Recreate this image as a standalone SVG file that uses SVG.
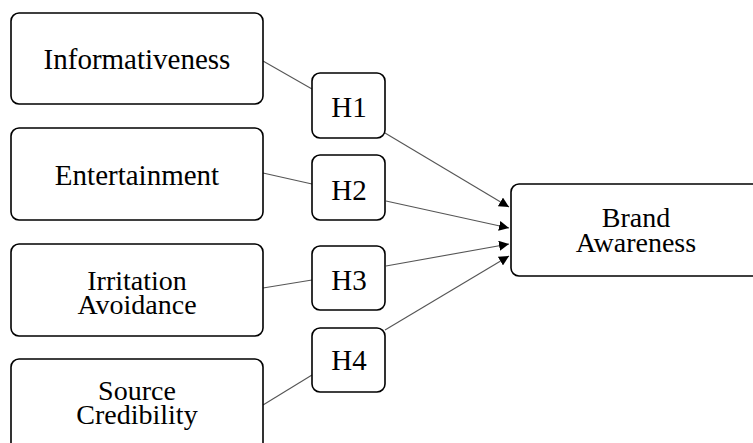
<svg xmlns="http://www.w3.org/2000/svg" width="753" height="443" viewBox="0 0 753 443">
<style>
.box{fill:#fff;stroke:#000;stroke-width:1.6}
.t{font-family:'Liberation Serif','Times New Roman',serif;font-size:29px;fill:#000;text-anchor:middle}
.t2{font-family:'Liberation Serif','Times New Roman',serif;font-size:28px;fill:#000;text-anchor:middle}
.c{stroke:#555;stroke-width:1.1;fill:none}
</style>
<defs>
<marker id="arr" viewBox="0 0 10 10" refX="10" refY="5" markerWidth="10" markerHeight="10" markerUnits="userSpaceOnUse" orient="auto">
<path d="M0,0 L10,5 L0,10 Z" fill="#000"/>
</marker>
</defs>
<rect width="753" height="443" fill="#fff"/>
<g id="connectors">
<line class="c" x1="263" y1="61" x2="312" y2="89"/>
<line class="c" x1="263" y1="173" x2="312" y2="184"/>
<line class="c" x1="263" y1="288" x2="312" y2="280"/>
<line class="c" x1="263" y1="405" x2="312" y2="375"/>
<line class="c" x1="385" y1="133" x2="509" y2="207" marker-end="url(#arr)"/>
<line class="c" x1="386" y1="201" x2="509" y2="228" marker-end="url(#arr)"/>
<line class="c" x1="386" y1="266" x2="509" y2="244" marker-end="url(#arr)"/>
<line class="c" x1="385" y1="330" x2="509" y2="256" marker-end="url(#arr)"/>
</g>
<g id="informativeness">
<rect class="box" x="11" y="13" width="252" height="91" rx="8"/>
<text class="t" x="137" y="69">Informativeness</text>
</g>
<g id="entertainment">
<rect class="box" x="11" y="128" width="252" height="92" rx="8"/>
<text class="t" x="137" y="185">Entertainment</text>
</g>
<g id="irritation">
<rect class="box" x="11" y="244" width="252" height="92" rx="8"/>
<text class="t2" x="137" y="290">Irritation</text>
<text class="t2" x="137" y="314">Avoidance</text>
</g>
<g id="source">
<rect class="box" x="11" y="359" width="252" height="100" rx="8"/>
<text class="t2" x="137" y="400">Source</text>
<text class="t2" x="137" y="424">Credibility</text>
</g>
<g id="h1">
<rect class="box" x="312" y="73" width="73" height="65" rx="8"/>
<text class="t" x="349" y="117">H1</text>
</g>
<g id="h2">
<rect class="box" x="312" y="155" width="73" height="65" rx="8"/>
<text class="t" x="349" y="200">H2</text>
</g>
<g id="h3">
<rect class="box" x="312" y="246" width="73" height="64" rx="8"/>
<text class="t" x="349" y="290">H3</text>
</g>
<g id="h4">
<rect class="box" x="312" y="328" width="73" height="64" rx="8"/>
<text class="t" x="349" y="370">H4</text>
</g>
<g id="brand">
<rect class="box" x="511" y="184" width="260" height="92" rx="8"/>
<text class="t2" x="636" y="227">Brand</text>
<text class="t2" x="636" y="252">Awareness</text>
</g>
</svg>
